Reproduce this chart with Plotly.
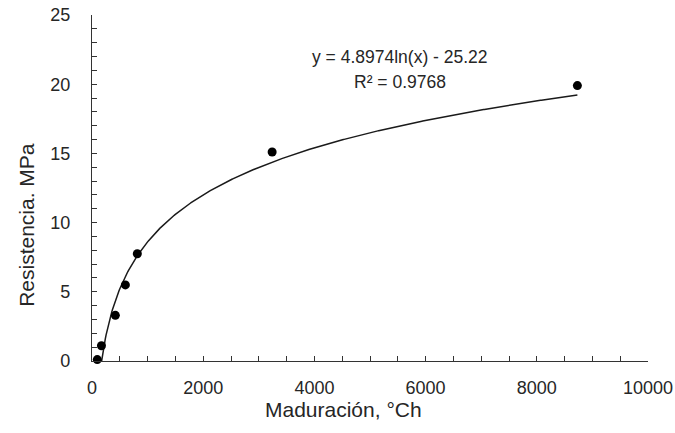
import numpy as np
import plotly.graph_objects as go

# Data
maduracion = [95, 170, 420, 600, 815, 3240, 8730]
resistencia = [0.1, 1.1, 3.3, 5.5, 7.75, 15.1, 19.9]

# Logarithmic trendline coefficients (as shown on chart)
coef_a = 4.8974
coef_b = -25.22
eq_text = "y = 4.8974ln(x) - 25.22"
r2_text = "R² = 0.9768"

x_ticks = [0, 2000, 4000, 6000, 8000, 10000]
x_tick_labels = ["0", "2000", "4000", "6000", "8000", "10000"]
y_ticks = [0, 5, 10, 15, 20, 25]
y_tick_labels = ["0", "5", "10", "15", "20", "25"]

xt = np.linspace(min(maduracion), max(maduracion), 600)
yt = coef_a * np.log(xt) + coef_b

FONT = "Liberation Sans, Arial, sans-serif"
TXT = "#262626"

fig = go.Figure()
fig.add_trace(go.Scatter(x=xt, y=yt, mode="lines",
                         line=dict(color="#1a1a1a", width=1.5),
                         showlegend=False, hoverinfo="skip"))
fig.add_trace(go.Scatter(x=maduracion, y=resistencia, mode="markers",
                         marker=dict(color="black", size=9),
                         showlegend=False, cliponaxis=False))

axis_common = dict(showgrid=False, zeroline=False, showline=True,
                   linecolor="#333333", linewidth=1.2, ticks="inside",
                   ticklen=5, tickwidth=1, tickcolor="#333333",
                   automargin=False,
                   tickfont=dict(family=FONT, size=18, color=TXT))

fig.update_xaxes(range=[0, 10000], tickvals=x_ticks, ticktext=x_tick_labels,
                 minor=dict(dtick=500, ticks="inside", ticklen=5, tickcolor="#333333"),
                 ticklabelstandoff=10, **axis_common)
fig.update_yaxes(range=[0, 25], tickvals=y_ticks, ticktext=y_tick_labels,
                 minor=dict(dtick=1, ticks="inside", ticklen=5, tickcolor="#333333"),
                 ticklabelstandoff=17, **axis_common)

fig.add_annotation(text="Maduración, °Ch", xref="paper", yref="paper",
                   x=0.453, y=-0.14, showarrow=False,
                   font=dict(family=FONT, size=21, color=TXT),
                   xanchor="center", yanchor="middle")
fig.add_annotation(text="Resistencia. MPa", xref="paper", yref="paper",
                   x=-0.119, y=0.393, showarrow=False, textangle=-90,
                   font=dict(family=FONT, size=21, color=TXT),
                   xanchor="center", yanchor="middle")
fig.add_annotation(text=eq_text, xref="paper", yref="paper",
                   x=0.554, y=0.88, showarrow=False,
                   font=dict(family=FONT, size=17.5, color=TXT),
                   xanchor="center", yanchor="middle")
fig.add_annotation(text=r2_text, xref="paper", yref="paper",
                   x=0.554, y=0.805, showarrow=False,
                   font=dict(family=FONT, size=17.5, color=TXT),
                   xanchor="center", yanchor="middle")

fig.update_layout(width=675, height=433,
                  margin=dict(l=92, r=27, t=15, b=72),
                  paper_bgcolor="white", plot_bgcolor="white")

fig.write_html("out.html")
